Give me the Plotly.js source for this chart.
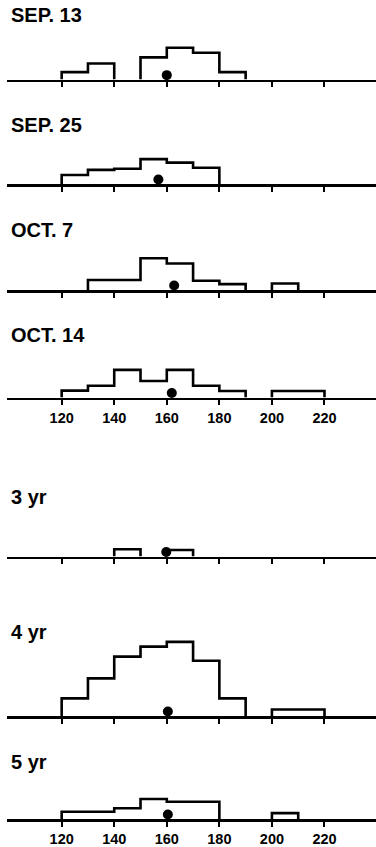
<!DOCTYPE html>
<html>
<head>
<meta charset="utf-8">
<script src="https://cdn.plot.ly/plotly-3.0.1.min.js"></script>
<style>html,body{margin:0;padding:0;background:#fff;}#chart{width:376px;height:847px;}</style>
</head>
<body>
<div id="chart"></div>
<script>
// Bin left edges (length classes, 10-unit bins from 120 to 220)
const binEdges = [120, 130, 140, 150, 160, 170, 180, 190, 200, 210];
const binWidth = 10;
const tickValues = [120, 140, 160, 180, 200, 220];
const tickLabels = ["120", "140", "160", "180", "200", "220"];

const panelTitles = ["SEP. 13", "SEP. 25", "OCT. 7", "OCT. 14", "3 yr", "4 yr", "5 yr"];

// Relative frequency (%) per bin
const sep13 = [2.2, 4.8, 0, 6.6, 9.5, 8.0, 2.2, 0, 0, 0];
const sep25 = [2.6, 4.1, 4.4, 7.2, 6.2, 4.7, 0, 0, 0, 0];
const oct7  = [0, 2.9, 2.9, 9.2, 7.7, 2.7, 1.7, 0, 1.9, 0];
const oct14 = [2.0, 3.4, 8.0, 4.8, 8.0, 3.4, 1.9, 0, 1.9, 1.9];
const yr3   = [0, 0, 2.1, 0, 1.9, 0, 0, 0, 0, 0];
const yr4   = [5.1, 10.9, 17.2, 20.1, 21.5, 16.0, 5.1, 0, 1.9, 1.9];
const yr5   = [2.1, 2.1, 3.1, 5.8, 5.0, 5.0, 0, 0, 1.7, 0];

// Mean length (dot) per panel
const means = [160.0, 156.8, 162.8, 161.9, 159.8, 160.4, 160.4];

const series = [sep13, sep25, oct7, oct14, yr3, yr4, yr5];
const showLabels = [false, false, false, true, false, false, true];

// Layout geometry (pixels)
const H = 847, W = 376;
const baselines = [79.5, 184, 290, 397.5, 556.5, 716, 819];
const titleY = [15, 125, 230, 335, 497, 632, 762];
const pxPerUnit = 3.45;
const panelH = 82;
const yMax = panelH / pxPerUnit;
const dotY = 4.5 / pxPerUnit;

// Build a step outline (histogram polygon) from the bin values
function stepOutline(vals) {
  const xs = [], ys = [];
  let k = 0;
  while (k < vals.length) {
    if (vals[k] > 0) {
      xs.push(binEdges[k]); ys.push(0);
      while (k < vals.length && vals[k] > 0) {
        xs.push(binEdges[k]); ys.push(vals[k]);
        k++;
      }
      xs.push(binEdges[k - 1] + binWidth); ys.push(0);
      xs.push(null); ys.push(null);
    } else {
      k++;
    }
  }
  return {xs, ys};
}

const data = [];
const layout = {
  width: W, height: H,
  margin: {l: 0, r: 0, t: 0, b: 0},
  paper_bgcolor: "#fff", plot_bgcolor: "rgba(0,0,0,0)",
  showlegend: false,
  annotations: [],
  font: {family: "Liberation Sans, Arial, sans-serif", color: "#000"}
};

series.forEach((vals, i) => {
  const n = i + 1;
  const xa = n === 1 ? "x" : "x" + n;
  const ya = n === 1 ? "y" : "y" + n;
  const o = stepOutline(vals);
  data.push({
    type: "scatter", mode: "lines", x: o.xs, y: o.ys,
    xaxis: xa, yaxis: ya,
    line: {color: "#000", width: 2.6, shape: "hv"},
    connectgaps: false,
    cliponaxis: false,
    hoverinfo: "skip"
  });
  data.push({
    type: "scatter", mode: "markers", x: [means[i]], y: [dotY],
    xaxis: xa, yaxis: ya,
    marker: {color: "#000", size: 10},
    cliponaxis: false,
    hoverinfo: "skip"
  });
  const b = baselines[i];
  const xKey = n === 1 ? "xaxis" : "xaxis" + n;
  const yKey = n === 1 ? "yaxis" : "yaxis" + n;
  layout[xKey] = {
    domain: [7 / W, 1],
    range: [99.2, 239.6],
    anchor: ya,
    showline: true, linecolor: "#000", linewidth: 2.6,
    ticks: "outside", ticklen: 5, tickwidth: 2, tickcolor: "#000",
    tickvals: tickValues, ticktext: tickLabels,
    showticklabels: showLabels[i],
    tickfont: {family: "Liberation Sans, Arial, sans-serif", size: 14.5, color: "#000", weight: "bold"},
    showgrid: false, zeroline: false, fixedrange: true
  };
  layout[yKey] = {
    domain: [1 - b / H, 1 - (b - panelH) / H],
    range: [0, yMax],
    anchor: xa,
    visible: false, showgrid: false, zeroline: false, fixedrange: true
  };
  layout.annotations.push({
    text: "<b>" + panelTitles[i] + "</b>",
    xref: "paper", yref: "paper",
    x: 9 / W, y: 1 - titleY[i] / H,
    xanchor: "left", yanchor: "middle",
    showarrow: false,
    font: {family: "Liberation Sans, Arial, sans-serif", size: 20, color: "#000"}
  });
});

Plotly.newPlot("chart", data, layout, {staticPlot: true, displayModeBar: false});
</script>
</body>
</html>
